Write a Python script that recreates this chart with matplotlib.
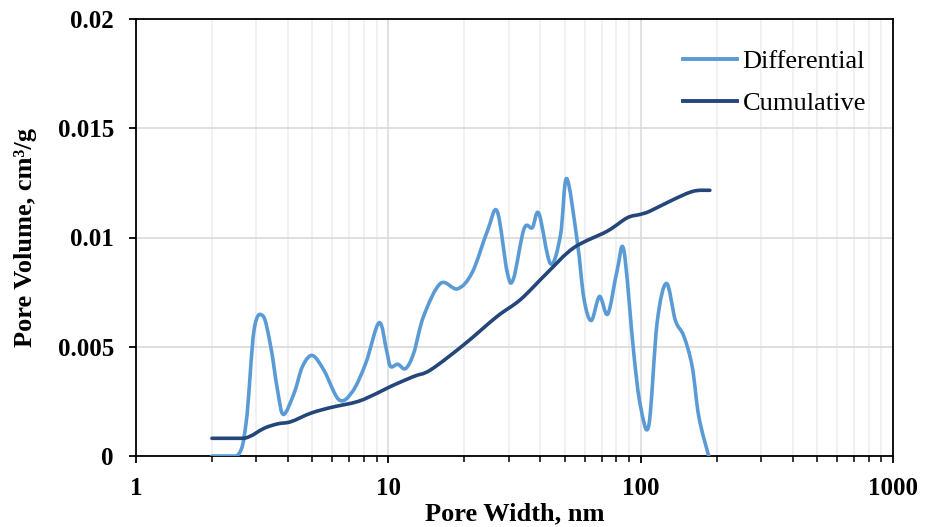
import numpy as np
import matplotlib
matplotlib.use("Agg")
import matplotlib.pyplot as plt
from matplotlib.path import Path
from matplotlib.patches import PathPatch
from matplotlib.lines import Line2D
from matplotlib.ticker import FixedLocator, LogLocator, FuncFormatter, NullFormatter

plt.rcParams['font.family'] = ['Liberation Serif', 'DejaVu Serif']

# pore size distribution (width in nm, volume in cm3/g)
diff_width = [2.0, 2.51, 2.73, 2.94, 3.19, 3.42, 3.64, 3.84, 4.24, 4.57, 5.0, 5.57,
              6.38, 7.21, 8.14, 9.19, 9.85, 10.2, 10.9, 11.7, 12.6, 13.8, 16.1, 18.8,
              21.5, 24.7, 27.0, 29.6, 31.3, 34.5, 37.2, 39.5, 43.9, 48.1, 50.9, 56.1,
              59.6, 63.7, 68.7, 74.1, 80.7, 85.8, 93.9, 99.8, 107.7, 116.2, 126.5,
              137.3, 148.1, 160.0, 170.0, 186.0]
diff_volume = [0.0, 0.0, 0.0015, 0.0058, 0.0064, 0.0050, 0.0030, 0.0019, 0.0029, 0.0041,
               0.0046, 0.0039, 0.00257, 0.00295, 0.00425, 0.0061, 0.0048, 0.0041, 0.0042,
               0.0040, 0.0047, 0.0064, 0.0079, 0.00765, 0.0084, 0.0103, 0.0112, 0.0084,
               0.0081, 0.0104, 0.01045, 0.0111, 0.0088, 0.0101, 0.0127, 0.0098, 0.0072,
               0.0062, 0.0073, 0.0065, 0.0085, 0.0094, 0.0047, 0.0023, 0.0014, 0.0061,
               0.0079, 0.0062, 0.0055, 0.0041, 0.0018, 0.0]

cum_width = [2.0, 2.68, 3.22, 3.64, 4.11, 4.93, 5.92, 7.55, 9.05, 10.2, 12.6, 14.7,
             19.9, 27.0, 33.4, 42.6, 54.3, 73.7, 88.4, 99.8, 109.0, 135.0, 162.0, 188.0]
cum_volume = [0.00081, 0.00081, 0.00127, 0.00147, 0.00157, 0.00196, 0.00222, 0.00249,
              0.00288, 0.00318, 0.00364, 0.00394, 0.00509, 0.00639, 0.00716, 0.00838,
              0.00953, 0.01029, 0.0109, 0.01106, 0.01121, 0.01174, 0.01212, 0.01216]

x_ticks = [1, 10, 100, 1000]
y_ticks = [0, 0.005, 0.01, 0.015, 0.02]
y_tick_labels = ['0', '0.005', '0.01', '0.015', '0.02']

c_diff = '#5b9bd5'
c_cum = '#24467a'


def smooth_path(xs, ys):
    # smoothed line through the points: Bezier segments built in log-x space
    pts = np.column_stack([np.log10(xs), np.asarray(ys, dtype=float)])
    n = len(pts)
    verts = [pts[0]]
    codes = [Path.MOVETO]
    for i in range(n - 1):
        p0 = pts[max(i - 1, 0)]
        p1 = pts[i]
        p2 = pts[i + 1]
        p3 = pts[min(i + 2, n - 1)]
        c1 = p1 + (p2 - p0) / 6
        c2 = p2 - (p3 - p1) / 6
        if p1[1] == p2[1]:
            # keep level stretches level
            c1[1] = c2[1] = p1[1]
        verts += [c1, c2, p2]
        codes += [Path.CURVE4] * 3
    verts = np.array(verts)
    verts[:, 0] = 10 ** verts[:, 0]
    return Path(verts, codes)


fig = plt.figure(figsize=(9.26, 5.27), dpi=100)
ax = fig.add_axes([136 / 926, 1 - 456 / 527, (893 - 136) / 926, (456 - 19) / 527])

ax.set_xscale('log')
ax.set_xlim(1, 1000)
ax.set_ylim(0, 0.02)

ax.add_patch(PathPatch(smooth_path(diff_width, diff_volume), fill=False,
                       edgecolor=c_diff, lw=2.6, capstyle='round', joinstyle='round', zorder=3))
ax.add_patch(PathPatch(smooth_path(cum_width, cum_volume), fill=False,
                       edgecolor=c_cum, lw=2.6, capstyle='round', joinstyle='round', zorder=4))

ax.xaxis.set_major_locator(FixedLocator(x_ticks))
ax.xaxis.set_major_formatter(FuncFormatter(lambda v, p: '%g' % v))
ax.xaxis.set_minor_locator(LogLocator(base=10, subs=np.arange(2, 10)))
ax.xaxis.set_minor_formatter(NullFormatter())
ax.yaxis.set_major_locator(FixedLocator(y_ticks))
ax.set_yticklabels(y_tick_labels)

ax.grid(True, which='major', axis='y', color='#d9d9d9', lw=1.2)
ax.grid(True, which='major', axis='x', color='#dcdcdc', lw=1.2)
ax.grid(True, which='minor', axis='x', color='#efefef', lw=1.2)
ax.set_axisbelow(True)

for s in ax.spines.values():
    s.set_linewidth(1.3)
    s.set_color('black')

ax.tick_params(axis='both', which='major', direction='out', length=5, width=1.3,
               labelsize=18, color='black')
ax.tick_params(axis='x', which='minor', direction='out', length=4, width=1.1, color='black')
ax.tick_params(axis='y', pad=11)
ax.tick_params(axis='x', which='major', pad=10)
for lab in ax.get_xticklabels() + ax.get_yticklabels():
    lab.set_fontweight('bold')

ax.set_xlabel('Pore Width, nm', fontsize=19, fontweight='bold', labelpad=2)
ax.set_ylabel('Pore Volume, cm³/g', fontsize=19, fontweight='bold', labelpad=15)

handles = [Line2D([], [], color=c_diff, lw=2.8), Line2D([], [], color=c_cum, lw=2.8)]
ax.legend(handles, ['Differential', 'Cumulative'], loc='upper left',
          bbox_to_anchor=(0.7226, 0.929), frameon=False, fontsize=19,
          handlelength=2.05, handletextpad=0.2, labelspacing=0.69,
          borderpad=0, borderaxespad=0)

fig.savefig('out.png', dpi=100)
